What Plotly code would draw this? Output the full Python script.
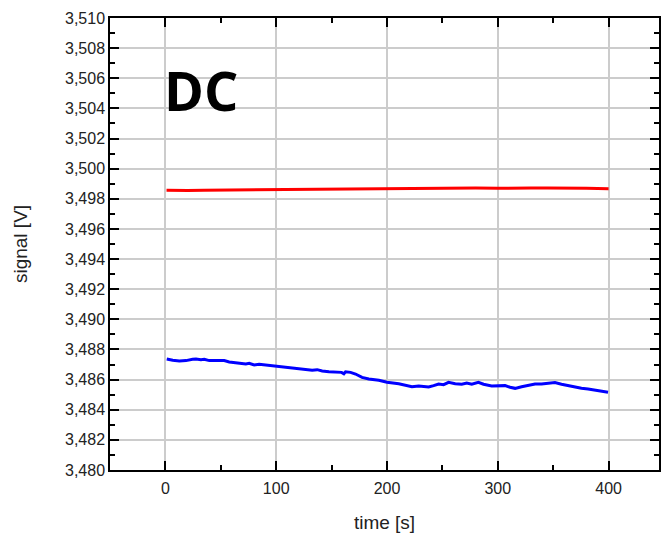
import plotly.graph_objects as go

# ---- data ----
blue_t = [1.2, 6.6, 12.6, 18.6, 24.6, 27.6, 32.1, 35.1, 39.6, 45.6, 53.1, 57.6, 66.6, 72.6, 75.6,
          80.1, 84.6, 90.6, 96.6, 102.6, 108.6, 114.6, 120.6, 126.6, 132.5, 137.0, 141.5, 147.6,
          153.6, 159.0, 161.1, 162.6, 167.1, 171.6, 177.5, 183.6, 192.6, 200.0, 210.6, 216.6,
          222.5, 228.6, 237.6, 242.1, 246.6, 251.1, 255.6, 261.6, 267.5, 272.0, 276.5, 282.5,
          287.1, 294.5, 300.5, 306.6, 311.1, 315.6, 321.5, 327.5, 333.6, 339.5, 345.5, 351.6,
          357.5, 363.5, 369.6, 375.5, 381.5, 387.6, 393.5, 399.5]
blue_v = [3.48737, 3.48728, 3.48724, 3.48726, 3.48735, 3.48737, 3.48732, 3.48735, 3.48726, 3.48724,
          3.48726, 3.48717, 3.48712, 3.48704, 3.48708, 3.48697, 3.48702, 3.48697, 3.48690, 3.48684,
          3.48682, 3.48677, 3.48672, 3.48668, 3.48662, 3.48666, 3.48657, 3.48652, 3.48650, 3.48648,
          3.48639, 3.48652, 3.48648, 3.48637, 3.48615, 3.48604, 3.48595, 3.48582, 3.48573, 3.48564,
          3.48553, 3.48558, 3.48551, 3.48560, 3.48571, 3.48566, 3.48582, 3.48573, 3.48569, 3.48577,
          3.48569, 3.48582, 3.48569, 3.48558, 3.48560, 3.48560, 3.48549, 3.48542, 3.48553, 3.48564,
          3.48571, 3.48571, 3.48576, 3.48580, 3.48569, 3.48560, 3.48546, 3.48542, 3.48538, 3.48531,
          3.48524, 3.48516]

red_t = [1, 10, 20, 35, 50, 65, 80, 100, 115, 130, 150, 165, 180, 200, 220, 240, 250, 265, 280,
         300, 315, 330, 345, 360, 380, 400]
red_v = [3.49856, 3.49854, 3.49855, 3.49857, 3.49858, 3.49857, 3.49860, 3.49863, 3.49861,
         3.49863, 3.49865, 3.49864, 3.49866, 3.49867, 3.49869, 3.49873, 3.49874, 3.49873,
         3.49872, 3.49870, 3.49873, 3.49872, 3.49871, 3.49872, 3.49870, 3.49867]

x_ticks = [0, 100, 200, 300, 400]
y_ticks = [3.480, 3.482, 3.484, 3.486, 3.488, 3.490, 3.492, 3.494, 3.496, 3.498,
           3.500, 3.502, 3.504, 3.506, 3.508, 3.510]

fig = go.Figure()
fig.add_trace(go.Scatter(x=red_t, y=red_v, mode="lines",
                         line=dict(color="#ff0000", width=3), showlegend=False))
fig.add_trace(go.Scatter(x=blue_t, y=blue_v, mode="lines",
                         line=dict(color="#0000ff", width=3), showlegend=False))

tickfont = dict(family="Liberation Sans, Arial, sans-serif", size=16, color="#222222")
titlefont = dict(family="Liberation Sans, Arial, sans-serif", size=19, color="#222222")

fig.update_layout(
    width=661, height=533,
    margin=dict(l=110, r=0, t=18, b=63),
    paper_bgcolor="white", plot_bgcolor="white",
    separators=", ",
    xaxis=dict(
        range=[-50, 445.5], tickvals=x_ticks, ticks="inside", ticklen=9, tickwidth=1.5,
        tickcolor="black", showline=True, linecolor="black", linewidth=1.5, mirror="ticks",
        showgrid=True, gridcolor="#cccccc", gridwidth=1.5, zeroline=False,
        tickfont=tickfont, ticklabelstandoff=3,
        minor=dict(dtick=50, tick0=0, ticks="inside", ticklen=5, tickcolor="black",
                   tickwidth=1.5, showgrid=False),
        title=dict(text="time [s]", font=titlefont, standoff=20),
    ),
    yaxis=dict(
        range=[3.480, 3.510], tickvals=y_ticks, tickformat=".3f", ticks="inside", ticklen=9,
        tickwidth=1.5, tickcolor="black", showline=True, linecolor="black", linewidth=1.5,
        mirror="ticks", showgrid=True, gridcolor="#cccccc", gridwidth=1.5, zeroline=False,
        tickfont=tickfont,
        minor=dict(dtick=0.002, tick0=3.481, ticks="inside", ticklen=5, tickcolor="black",
                   tickwidth=1.5, showgrid=False),
        title=dict(text="signal [V]", font=titlefont, standoff=32),
    ),
    annotations=[dict(
        text="<b>DC</b>", x=0, y=3.5052, xref="x", yref="y", xanchor="left", yanchor="middle",
        xshift=-3, showarrow=False,
        font=dict(family="Open Sans, sans-serif", size=54, color="black"),
    )],
)

fig.write_html("out.html")
